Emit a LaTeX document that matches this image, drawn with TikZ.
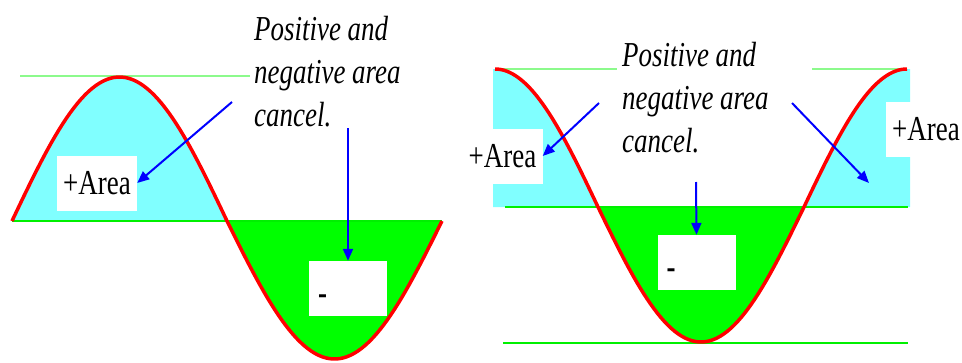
\documentclass[tikz,border=0pt]{standalone}
\usepackage{fontspec}
\setmainfont{Liberation Serif}
\newfontfamily\stretchfont[FakeStretch=0.77]{Liberation Serif}
\usetikzlibrary{arrows.meta}
\definecolor{poscyan}{RGB}{128,255,255}
\definecolor{neggreen}{RGB}{0,255,0}
\definecolor{axisgreen}{RGB}{0,240,0}
\definecolor{peakgreen}{RGB}{140,250,140}
\definecolor{curvered}{RGB}{255,0,0}
\definecolor{pointblue}{RGB}{0,0,255}
\begin{document}
\begin{tikzpicture}[x=1pt, y=-1pt,
  areabox/.style={fill=white, inner sep=0pt, minimum width=80pt, minimum height=55pt, font=\stretchfont\fontsize{35}{43}\selectfont},
  minusbox/.style={areabox, minimum width=78pt, text width=60pt, align=left, text height=31pt, text depth=0pt, font=\stretchfont\bfseries\fontsize{35}{43}\selectfont},
  note/.style={anchor=base west, inner sep=0pt, align=left, font=\stretchfont\itshape\fontsize{35}{43}\selectfont},
  pointer/.style={pointblue, line width=2pt, -{Triangle[length=12pt,width=10pt]}},
  curve/.style={curvered, line width=3.5pt, line join=round},
  guide/.style={axisgreen, line width=2pt},
  peak/.style={peakgreen, line width=1.5pt}]
\useasboundingbox (0,0) rectangle (962,362);

\fill[poscyan] (12,221) -- plot[domain=12:227, samples=60] ({\x},{221-144*sin((\x-12)/430*360)}) -- cycle;
\fill[neggreen] (227,221) -- plot[domain=227:442, samples=60] ({\x},{221-138*sin((\x-12)/430*360)}) -- cycle;
\fill[poscyan] (493,69) -- plot[domain=495:598, samples=60] ({\x},{207-138*cos((\x-495)/412*360)}) -- (493,207) -- cycle;
\fill[poscyan] plot[domain=804:907, samples=60] ({\x},{207-138*cos((\x-495)/412*360)}) -- (910,69) -- (910,207) -- cycle;
\fill[neggreen] plot[domain=598:804, samples=60] ({\x},{207-135*cos((\x-495)/412*360)}) -- cycle;

\draw[peak] (20,76) -- (250,76);
\draw[guide] (12,221) -- (442,221);
\draw[peak] (495,69) -- (617,69);
\draw[peak] (812,69) -- (907,69);
\draw[guide] (505,207) -- (908,207);
\draw[guide] (503,343) -- (908,343);

\draw[curve] plot[domain=12:227, samples=60] ({\x},{221-144*sin((\x-12)/430*360)})
  -- plot[domain=227:442, samples=60] ({\x},{221-138*sin((\x-12)/430*360)});
\draw[curve] plot[domain=495:598, samples=60] ({\x},{207-138*cos((\x-495)/412*360)})
  -- plot[domain=598:804, samples=60] ({\x},{207-135*cos((\x-495)/412*360)})
  -- plot[domain=804:907, samples=60] ({\x},{207-138*cos((\x-495)/412*360)});

\node[areabox] (lplus) at (97,183) {+Area};
\node[minusbox] (lminus) at (348,288.5) {-};
\node[areabox] (rplusl) at (502.5,156) {+Area};
\node[areabox] (rplusr) at (926,129.5) {+Area};
\node[minusbox] (rminus) at (696.5,262.5) {-};

\node[note] (lnote) at (254,126) {Positive and\\negative area\\cancel.};
\node[note] (rnote) at (622,152) {Positive and\\negative area\\cancel.};

\coordinate (ltail) at (232,102);
\coordinate (ltailb) at (348,128);
\coordinate (rtaill) at (599,103);
\coordinate (rtailr) at (792,103);
\coordinate (rtailm) at (696,182);
\coordinate (rhead) at (869,183);

\draw[pointer] (ltail) -- (lplus.east);
\draw[pointer] (ltailb) -- (lminus.north);
\draw[pointer] (rtaill) -- (rplusl.east);
\draw[pointer] (rtailr) -- (rhead);
\draw[pointer] (rtailm) -- (rminus.north);
\end{tikzpicture}
\end{document}
